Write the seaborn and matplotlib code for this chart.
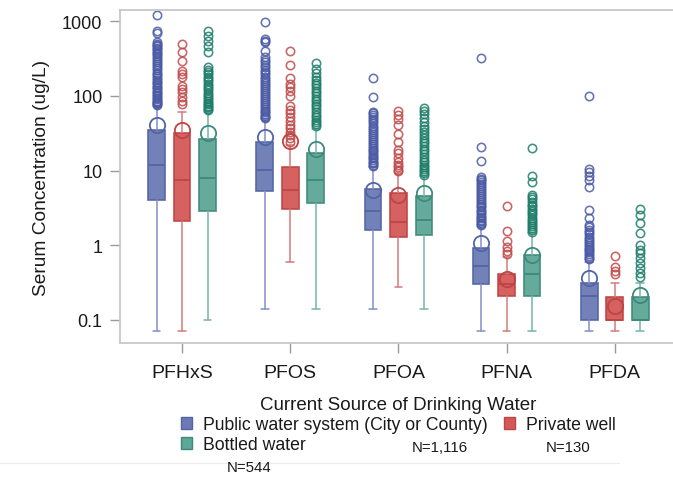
import matplotlib
matplotlib.use("Agg")
import matplotlib.pyplot as plt
import matplotlib.patches as mpatches
from matplotlib.lines import Line2D
import seaborn as sns

# ---------------- data ----------------
compounds = ["PFHxS", "PFOS", "PFOA", "PFNA", "PFDA"]
sources = ["Public water system (City or County)", "Private well", "Bottled water"]
n_labels = ["N=1,116", "N=130", "N=544"]
ytick_values = [0.1, 1, 10, 100, 1000]
ytick_labels = ["0.1", "1", "10", "100", "1000"]

# Public water system
pub_q1 = [4.0, 5.3, 1.6, 0.30, 0.10]
pub_med = [11.8, 10.1, 2.85, 0.52, 0.21]
pub_q3 = [34.5, 24.1, 5.6, 0.91, 0.31]
pub_lo = [0.07, 0.14, 0.14, 0.07, 0.07]
pub_hi = [74, 49, 11, 1.8, 0.6]
pub_mean = [41, 28, 5.5, 1.06, 0.36]
pub_out_pfhxs = [1214, 730, 700, 520, 500, 480, 460, 440, 420, 400, 380, 360, 340, 320, 300,
                 280, 265, 250, 235, 220, 205, 195, 185, 175, 165, 155, 147, 140, 133, 126,
                 120, 114, 108, 103, 98, 94, 90, 86, 83, 80, 77, 75]
pub_out_pfos = [960, 575, 540, 520, 402, 330, 300, 280, 260, 240, 225, 210, 195, 180, 170, 160,
                150, 140, 130, 122, 115, 108, 102, 96, 90, 85, 80, 75, 71, 67, 63, 60, 57, 54,
                52, 50]
pub_out_pfoa = [174, 95, 61, 58, 55, 52, 49, 46, 43, 40, 37, 35, 33, 31, 29, 27, 25.5, 24, 22.5,
                21, 20, 19, 18, 17, 16, 15.2, 14.5, 13.8, 13.1, 12.5, 11.9, 11.4]
pub_out_pfna = [321, 20.7, 13.3, 8.1, 7.8, 7.4, 7.0, 6.6, 6.2, 5.8, 5.5, 5.2, 4.9, 4.6, 4.3, 4.0,
                3.8, 3.6, 3.4, 3.2, 3.0, 2.85, 2.7, 2.55, 2.4, 2.3, 2.2, 2.1, 2.0, 1.92, 1.85]
pub_out_pfda = [99, 10.6, 9.6, 8.5, 7.4, 6.0, 3.0, 2.34, 1.87, 1.75, 1.6, 1.5, 1.4, 1.3, 1.22,
                1.15, 1.08, 1.0, 0.95, 0.9, 0.85, 0.8, 0.76, 0.72, 0.68, 0.65]

# Private well
prv_q1 = [2.13, 3.1, 1.29, 0.21, 0.10]
prv_med = [7.4, 5.5, 2.03, 0.30, 0.10]
prv_q3 = [31.8, 11.0, 5.0, 0.41, 0.20]
prv_lo = [0.07, 0.6, 0.28, 0.07, 0.07]
prv_hi = [60, 22, 9.3, 0.69, 0.31]
prv_mean = [35, 25, 4.7, 0.35, 0.155]
prv_out_pfhxs = [493, 382, 296, 217, 196, 177, 137, 124, 112, 96, 86, 78]
prv_out_pfos = [402, 259, 174, 145, 130, 115, 100, 74, 65, 58, 52, 46, 41, 37, 33, 30, 27, 24]
prv_out_pfoa = [61.8, 54.6, 49.4, 40.2, 31.1, 24.1, 18.7, 16.9, 14.5, 13.1, 11.8, 11.0, 10.3, 9.8]
prv_out_pfna = [3.4, 1.55, 1.15, 0.94, 0.83, 0.77]
prv_out_pfda = [0.71, 0.51, 0.45, 0.41]

# Bottled water
btl_q1 = [2.87, 3.7, 1.37, 0.21, 0.10]
btl_med = [8.0, 7.4, 2.2, 0.41, 0.10]
btl_q3 = [26.2, 17.4, 4.5, 0.73, 0.20]
btl_lo = [0.10, 0.14, 0.14, 0.07, 0.07]
btl_hi = [61, 36, 8.5, 1.45, 0.31]
btl_mean = [31.9, 19.2, 5.0, 0.74, 0.215]
btl_out_pfhxs = [728, 637, 546, 468, 382, 243, 225, 210, 195, 180, 168, 156, 145, 135, 126, 118,
                 110, 103, 97, 91, 86, 81, 77, 73, 70, 67, 64]
btl_out_pfos = [273, 230, 200, 180, 165, 150, 138, 127, 117, 108, 100, 92, 85, 78, 72, 66, 61,
                56, 52, 48, 45, 42, 39.5]
btl_out_pfoa = [69, 62, 57, 50, 45, 40, 36, 33, 30, 27, 25, 23, 21, 19.5, 18, 16.5, 15.2, 14, 13,
                12, 11.2, 10.5, 9.8, 9.2, 8.7]
btl_out_pfna = [20.3, 8.4, 7.1, 4.7, 4.4, 4.1, 3.8, 3.5, 3.3, 3.1, 2.9, 2.7, 2.5, 2.35, 2.2, 2.05,
                1.92, 1.8, 1.7, 1.6, 1.52]
btl_out_pfda = [3.1, 2.54, 1.96, 1.45, 1.01, 0.87, 0.78, 0.67, 0.58, 0.49, 0.42, 0.38]

groups = [
    (pub_q1, pub_med, pub_q3, pub_lo, pub_hi, pub_mean,
     [pub_out_pfhxs, pub_out_pfos, pub_out_pfoa, pub_out_pfna, pub_out_pfda]),
    (prv_q1, prv_med, prv_q3, prv_lo, prv_hi, prv_mean,
     [prv_out_pfhxs, prv_out_pfos, prv_out_pfoa, prv_out_pfna, prv_out_pfda]),
    (btl_q1, btl_med, btl_q3, btl_lo, btl_hi, btl_mean,
     [btl_out_pfhxs, btl_out_pfos, btl_out_pfoa, btl_out_pfna, btl_out_pfda]),
]

# ---------------- styling ----------------
sns.set_theme(style="ticks")
plt.rcParams["font.family"] = ["Liberation Sans", "DejaVu Sans"]

fills = ["#6B7AB6", "#D35858", "#5EA697"]
edges = ["#5264A6", "#BF4444", "#3C8A7B"]
whisk = ["#8390C8", "#D57C7C", "#74B6A8"]
flier_c = ["#4A5AA4", "#C04A4A", "#1C7D69"]

fig = plt.figure(figsize=(6.73, 4.85), dpi=100)
ax = fig.add_axes([0.179, 0.291, 0.826, 0.686])

offsets = [-0.236, 0.0, 0.236]
for gi, (q1, med, q3, lo, hi, mean, outs) in enumerate(groups):
    stats = []
    for ci in range(len(compounds)):
        stats.append(dict(q1=q1[ci], med=med[ci], q3=q3[ci], whislo=lo[ci], whishi=hi[ci],
                          mean=mean[ci], fliers=outs[ci], label=compounds[ci]))
    pos = [ci + offsets[gi] for ci in range(len(compounds))]
    ax.bxp(stats, positions=pos, widths=0.155, patch_artist=True, showmeans=True,
           showfliers=True, manage_ticks=False, capwidths=0.07,
           boxprops=dict(facecolor=fills[gi], edgecolor=edges[gi], linewidth=1.2, alpha=0.95),
           medianprops=dict(color=edges[gi], linewidth=1.3),
           whiskerprops=dict(color=whisk[gi], linewidth=1.1),
           capprops=dict(color=whisk[gi], linewidth=1.1),
           meanprops=dict(marker="o", markerfacecolor="none", markeredgecolor=edges[gi],
                          markersize=11, markeredgewidth=1.3),
           flierprops=dict(marker="o", markerfacecolor="none", markeredgecolor=flier_c[gi],
                           markersize=6, markeredgewidth=1.15, alpha=0.85))

ax.set_yscale("log")
ax.set_ylim(0.0493, 1402)
ax.set_xlim(-0.57, 4.57)
ax.minorticks_off()
ax.set_yticks(ytick_values)
ax.set_yticklabels(ytick_labels)
ax.set_xticks(range(len(compounds)))
ax.set_xticklabels(compounds)
ax.tick_params(axis="both", colors="#9a9a9a", labelcolor="#1a1a1a", labelsize=13,
               length=7, width=1.0, pad=6)
ax.tick_params(axis="x", labelsize=14, pad=8)
for s in ["left", "bottom", "top"]:
    ax.spines[s].set_color("#c8c8c8")
    ax.spines[s].set_linewidth(1.3)
ax.spines["right"].set_visible(False)
ax.set_ylabel("Serum Concentration (ug/L)", fontsize=13.8, color="#1a1a1a", labelpad=9)

# legend
handles = [mpatches.Patch(facecolor=fills[0], edgecolor=edges[0], label=sources[0]),
           mpatches.Patch(facecolor=fills[2], edgecolor=edges[2], label=sources[2]),
           mpatches.Patch(facecolor=fills[1], edgecolor=edges[1], label=sources[1])]
leg = fig.legend(handles=handles, ncol=2, loc="upper left", bbox_to_anchor=(181 / 673, 1 - 397 / 485),
                 title="Current Source of Drinking Water", fontsize=12.7, title_fontsize=13.5,
                 frameon=False, handlelength=0.65, handleheight=0.65, handletextpad=0.6,
                 columnspacing=0.9, labelspacing=0.18, borderpad=0.0, borderaxespad=0.0)
for t in leg.get_texts():
    t.set_color("#1a1a1a")
leg.get_title().set_color("#1a1a1a")

fig.text(440 / 673, 1 - 448 / 485, n_labels[0], ha="center", va="center", fontsize=10.8, color="#1a1a1a")
fig.text(568 / 673, 1 - 448 / 485, n_labels[1], ha="center", va="center", fontsize=10.8, color="#1a1a1a")
fig.text(249 / 673, 1 - 468 / 485, n_labels[2], ha="center", va="center", fontsize=10.8, color="#1a1a1a")
fig.add_artist(Line2D([0, 0.92], [1 - 464 / 485, 1 - 464 / 485], color="#ececec", linewidth=0.8))

fig.savefig("out.png", dpi=100)
